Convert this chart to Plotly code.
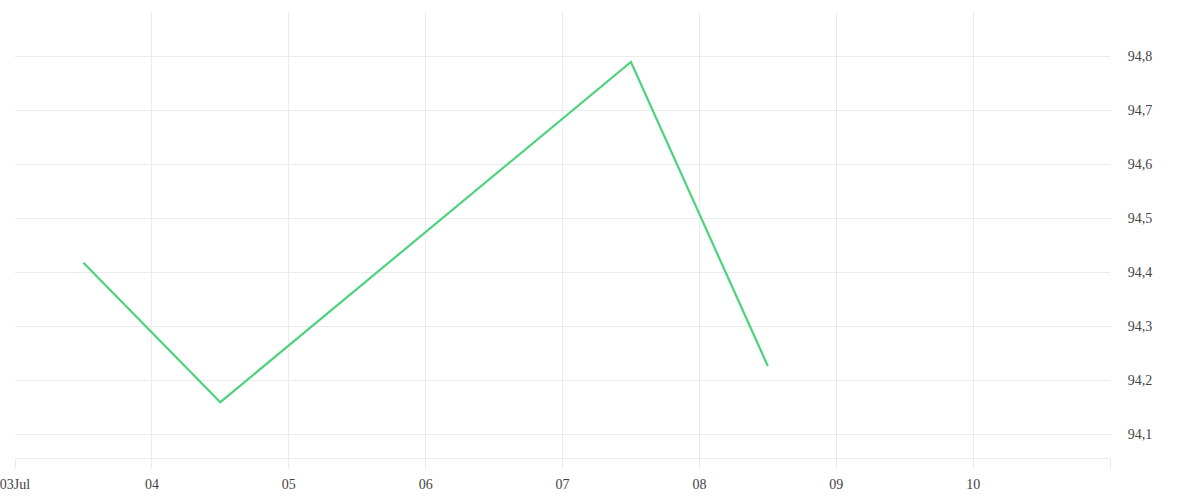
import plotly.graph_objects as go

dates = ["2024-07-03 12:00", "2024-07-04 12:00", "2024-07-07 12:00", "2024-07-08 12:00"]
values = [94.417, 94.159, 94.789, 94.226]

x_tickvals = ["2024-07-03", "2024-07-04", "2024-07-05", "2024-07-06", "2024-07-07",
              "2024-07-08", "2024-07-09", "2024-07-10", "2024-07-11"]
x_ticktext = ["03Jul", "04", "05", "06", "07", "08", "09", "10", ""]
y_tickvals = [94.1, 94.2, 94.3, 94.4, 94.5, 94.6, 94.7, 94.8]
y_ticktext = ["94,1", "94,2", "94,3", "94,4", "94,5", "94,6", "94,7", "94,8"]

grid = "#ebebeb"
font = dict(family="Liberation Serif", size=14, color="#444444")

fig = go.Figure()
fig.add_trace(go.Scatter(x=dates, y=values, mode="lines",
                         line=dict(color="#4cd37b", width=2.2),
                         showlegend=False, hoverinfo="skip"))

fig.update_layout(
    width=1200, height=500,
    margin=dict(l=15, r=90, t=12, b=42, autoexpand=False),
    paper_bgcolor="white", plot_bgcolor="white",
    font=font,
)
fig.update_xaxes(
    type="date", automargin=False,
    range=["2024-07-03", "2024-07-11"],
    tickmode="array", tickvals=x_tickvals, ticktext=x_ticktext,
    showgrid=True, gridcolor=grid, gridwidth=1,
    ticks="outside", ticklen=10, tickcolor=grid, tickwidth=1,
    ticklabeloverflow="allow", ticklabelstandoff=3,
    showline=True, linecolor=grid, linewidth=1,
    zeroline=False, tickfont=font,
)
fig.update_yaxes(
    side="right", automargin=False,
    range=[94.0556, 94.8815],
    tickmode="array", tickvals=y_tickvals, ticktext=y_ticktext,
    showgrid=True, gridcolor=grid, gridwidth=1,
    ticks="outside", ticklen=14, tickcolor="rgba(0,0,0,0)",
    ticklabeloverflow="allow",
    showline=False, zeroline=False, tickfont=font,
)

fig.write_html("out.html",
               config={"displayModeBar": False},
               post_script="document.body.style.margin='0';document.body.style.overflow='hidden';")
